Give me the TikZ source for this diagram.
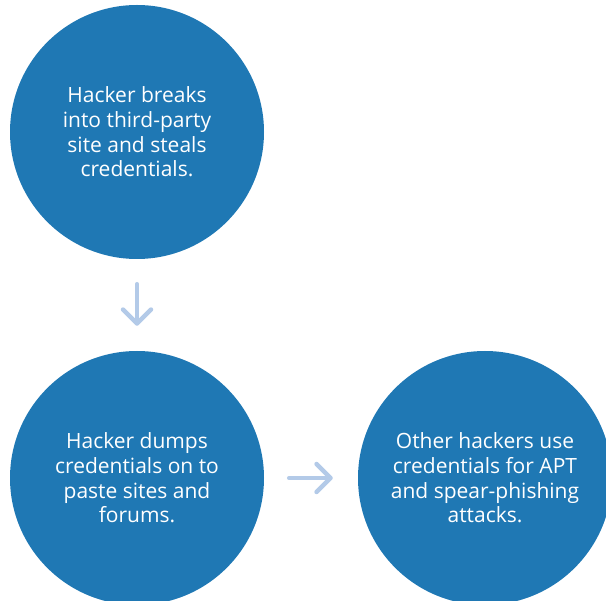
\documentclass[tikz,border=0pt]{standalone}
\usepackage{fontspec}
\setmainfont{Open Sans}
\usetikzlibrary{arrows.meta}
\definecolor{circblue}{HTML}{1F78B4}
\definecolor{arrblue}{HTML}{B3CAE8}
\tikzset{
  bubble/.style={circle, fill=circblue, draw=none, minimum size=254pt, inner sep=0pt,
    text=white, align=center, font=\fontsize{21}{24.6}\selectfont},
  flow/.style={draw=arrblue, line width=4.5pt, line cap=round,
    -{Straight Barb[length=14pt, width=28pt, round]}, shorten <=25pt, shorten >=25pt}
}
\begin{document}
\begin{tikzpicture}[x=1pt, y=-1pt]
\useasboundingbox (0,0) rectangle (606,601);
\node[bubble] (c1) at (137,132) {Hacker breaks\\into third-party\\site and steals\\credentials.};
\node[bubble] (c2) at (137,478) {Hacker dumps\\credentials on to\\paste sites and\\forums.};
\node[bubble] (c3) at (485,478) {Other hackers use\\credentials for APT\\and spear-phishing\\attacks.};
\draw[flow] (c1) -- (c2);
\draw[flow] (c2) -- (c3);
\end{tikzpicture}
\end{document}
